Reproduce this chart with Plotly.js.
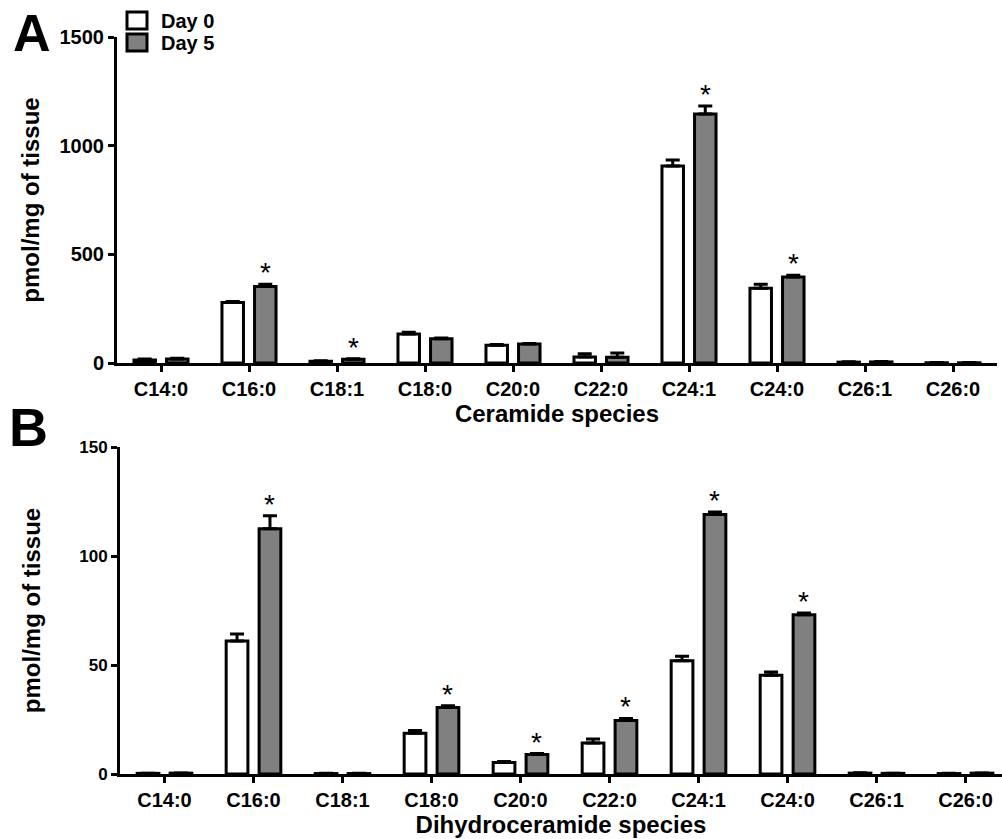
<!DOCTYPE html>
<html>
<head>
<meta charset="utf-8">
<script src="https://cdn.plot.ly/plotly-3.0.1.min.js"></script>
<style>html,body{margin:0;padding:0;background:#fff;}#chart{width:1002px;height:839px;}</style>
</head>
<body>
<div id="chart"></div>
<script>
// ---- data ----
const categories = ['C14:0','C16:0','C18:1','C18:0','C20:0','C22:0','C24:1','C24:0','C26:1','C26:0'];
const seriesNames = ['Day 0', 'Day 5'];
const yTicksA = [0, 500, 1000, 1500];
const yTicksB = [0, 50, 100, 150];

// Panel A: ceramide species (pmol/mg of tissue)
const cerDay0    = [14, 278, 8, 133, 82, 28, 906, 344, 4, 1];
const cerDay0Err = [4, 5, 2, 8, 3, 14, 28, 18, 2, 1];
const cerDay5    = [18, 352, 17, 112, 87, 26, 1146, 396, 5, 1];
const cerDay5Err = [4, 10, 3, 3, 3, 20, 36, 8, 2, 1];
const cerSig     = [false, true, true, false, false, false, true, true, false, false];

// Panel B: dihydroceramide species (pmol/mg of tissue)
const dhDay0    = [0.3, 61, 0.2, 18.7, 5.3, 14.2, 52, 45.3, 0.4, 0.2];
const dhDay0Err = [0.1, 3.2, 0.1, 1.3, 0.4, 1.8, 2, 1.5, 0.2, 0.1];
const dhDay5    = [0.4, 112.5, 0.2, 30.5, 8.9, 24.5, 119, 73, 0.3, 0.4];
const dhDay5Err = [0.1, 6, 0.1, 0.8, 0.5, 1, 1.2, 0.8, 0.1, 0.1];
const dhSig     = [false, true, false, true, true, true, true, true, false, false];

// ---- styling ----
const W = 1002, H = 839;
const FONT = 'Liberation Sans, Arial, Helvetica, sans-serif';
const BLACK = '#000000';
const GREY = '#808080';
const FILLS = ['#ffffff', GREY];
const BARGAP = 0.26;
const LW = 3;

// pixel geometry of panels
const A = {x0: 117, x1: 997, y0: 37, y1: 363, range: [-0.5, 9.5]};
const B = {x0: 120, x1: 1002, y0: 447, y1: 774, range: [-0.5, 9.41]};

function bar(y, err, idx, xa, ya) {
  return {
    type: 'bar', x: categories, y: y, name: seriesNames[idx],
    xaxis: xa, yaxis: ya, showlegend: false, legendgroup: seriesNames[idx],
    marker: {color: FILLS[idx], line: {color: BLACK, width: LW}},
    error_y: {type: 'data', symmetric: false, array: err,
              arrayminus: err.map(() => 0), color: BLACK, thickness: LW, width: 7},
    hoverinfo: 'x+y+name'
  };
}

const traces = [
  bar(cerDay0, cerDay0Err, 0, 'x', 'y'),
  bar(cerDay5, cerDay5Err, 1, 'x', 'y'),
  bar(dhDay0, dhDay0Err, 0, 'x2', 'y2'),
  bar(dhDay5, dhDay5Err, 1, 'x2', 'y2')
];

function starAnnots(vals, errs, sig, panel, xref, yref) {
  const pxPerCat = (panel.x1 - panel.x0) / (panel.range[1] - panel.range[0]);
  const offset = pxPerCat * (1 - BARGAP) / 4;
  const out = [];
  sig.forEach((s, i) => {
    if (!s) return;
    out.push({
      x: categories[i], y: vals[i] + errs[i], xref: xref, yref: yref,
      text: '*', showarrow: false, xshift: offset, yshift: -6,
      yanchor: 'bottom', xanchor: 'center',
      font: {family: FONT, size: 28, color: BLACK}
    });
  });
  return out;
}

// legend (boxes + labels) in the top-left corner
const legendShapes = [], legendAnnots = [];
seriesNames.forEach((nm, i) => {
  const top = 12 + i * 22;
  legendShapes.push({type: 'rect', xref: 'paper', yref: 'paper',
    x0: 127 / W, x1: 147 / W, y0: 1 - (top + 17) / H, y1: 1 - top / H,
    fillcolor: FILLS[i], line: {color: BLACK, width: LW}});
  legendAnnots.push({text: nm, xref: 'paper', yref: 'paper', x: 159 / W, y: 1 - (top + 8.5) / H,
    xanchor: 'left', yanchor: 'middle', showarrow: false,
    font: {family: FONT, size: 20, color: BLACK, weight: 'bold'}});
});

const axisCommon = {
  showline: true, linecolor: BLACK, linewidth: LW,
  ticks: 'outside', ticklen: 6, tickwidth: LW, tickcolor: BLACK,
  showgrid: false, zeroline: false, fixedrange: true,
  tickfont: {family: FONT, size: 20, color: BLACK, weight: 'bold'}
};
const titleFont = {family: FONT, size: 24, color: BLACK, weight: 'bold'};

const layout = {
  width: W, height: H,
  margin: {l: 0, r: 0, t: 0, b: 0},
  paper_bgcolor: '#ffffff', plot_bgcolor: '#ffffff',
  barmode: 'group', bargap: BARGAP, bargroupgap: 0.34,
  showlegend: false,
  xaxis: Object.assign({}, axisCommon, {
    domain: [A.x0 / W, A.x1 / W], anchor: 'y', range: A.range, type: 'category',
    title: {text: 'Ceramide species', font: titleFont, standoff: 4}
  }),
  yaxis: Object.assign({}, axisCommon, {
    domain: [1 - A.y1 / H, 1 - A.y0 / H], anchor: 'x', range: [0, 1500],
    tickvals: yTicksA, ticktext: yTicksA.map(String),
    title: {text: 'pmol/mg of tissue', font: titleFont, standoff: 14}
  }),
  xaxis2: Object.assign({}, axisCommon, {
    domain: [B.x0 / W, B.x1 / W], anchor: 'y2', range: B.range, type: 'category',
    title: {text: 'Dihydroceramide species', font: titleFont, standoff: 2}
  }),
  yaxis2: Object.assign({}, axisCommon, {
    domain: [1 - B.y1 / H, 1 - B.y0 / H], anchor: 'x2', range: [0, 150],
    tickvals: yTicksB, ticktext: yTicksB.map(String),
    tickfont: {family: FONT, size: 17, color: BLACK, weight: 'bold'},
    title: {text: 'pmol/mg of tissue', font: titleFont, standoff: 32}
  }),
  shapes: legendShapes,
  annotations: [].concat(
    starAnnots(cerDay5, cerDay5Err, cerSig, A, 'x', 'y'),
    starAnnots(dhDay5, dhDay5Err, dhSig, B, 'x2', 'y2'),
    legendAnnots,
    [
      {text: 'A', xref: 'paper', yref: 'paper', x: 32 / W, y: 1 - 33 / H, showarrow: false,
       xanchor: 'center', yanchor: 'middle', font: {family: FONT, size: 52, color: BLACK, weight: 'bold'}},
      {text: 'B', xref: 'paper', yref: 'paper', x: 28 / W, y: 1 - 427 / H, showarrow: false,
       xanchor: 'center', yanchor: 'middle', font: {family: FONT, size: 54, color: BLACK, weight: 'bold'}}
    ]
  )
};

Plotly.newPlot('chart', traces, layout, {displayModeBar: false, staticPlot: true});
</script>
</body>
</html>
